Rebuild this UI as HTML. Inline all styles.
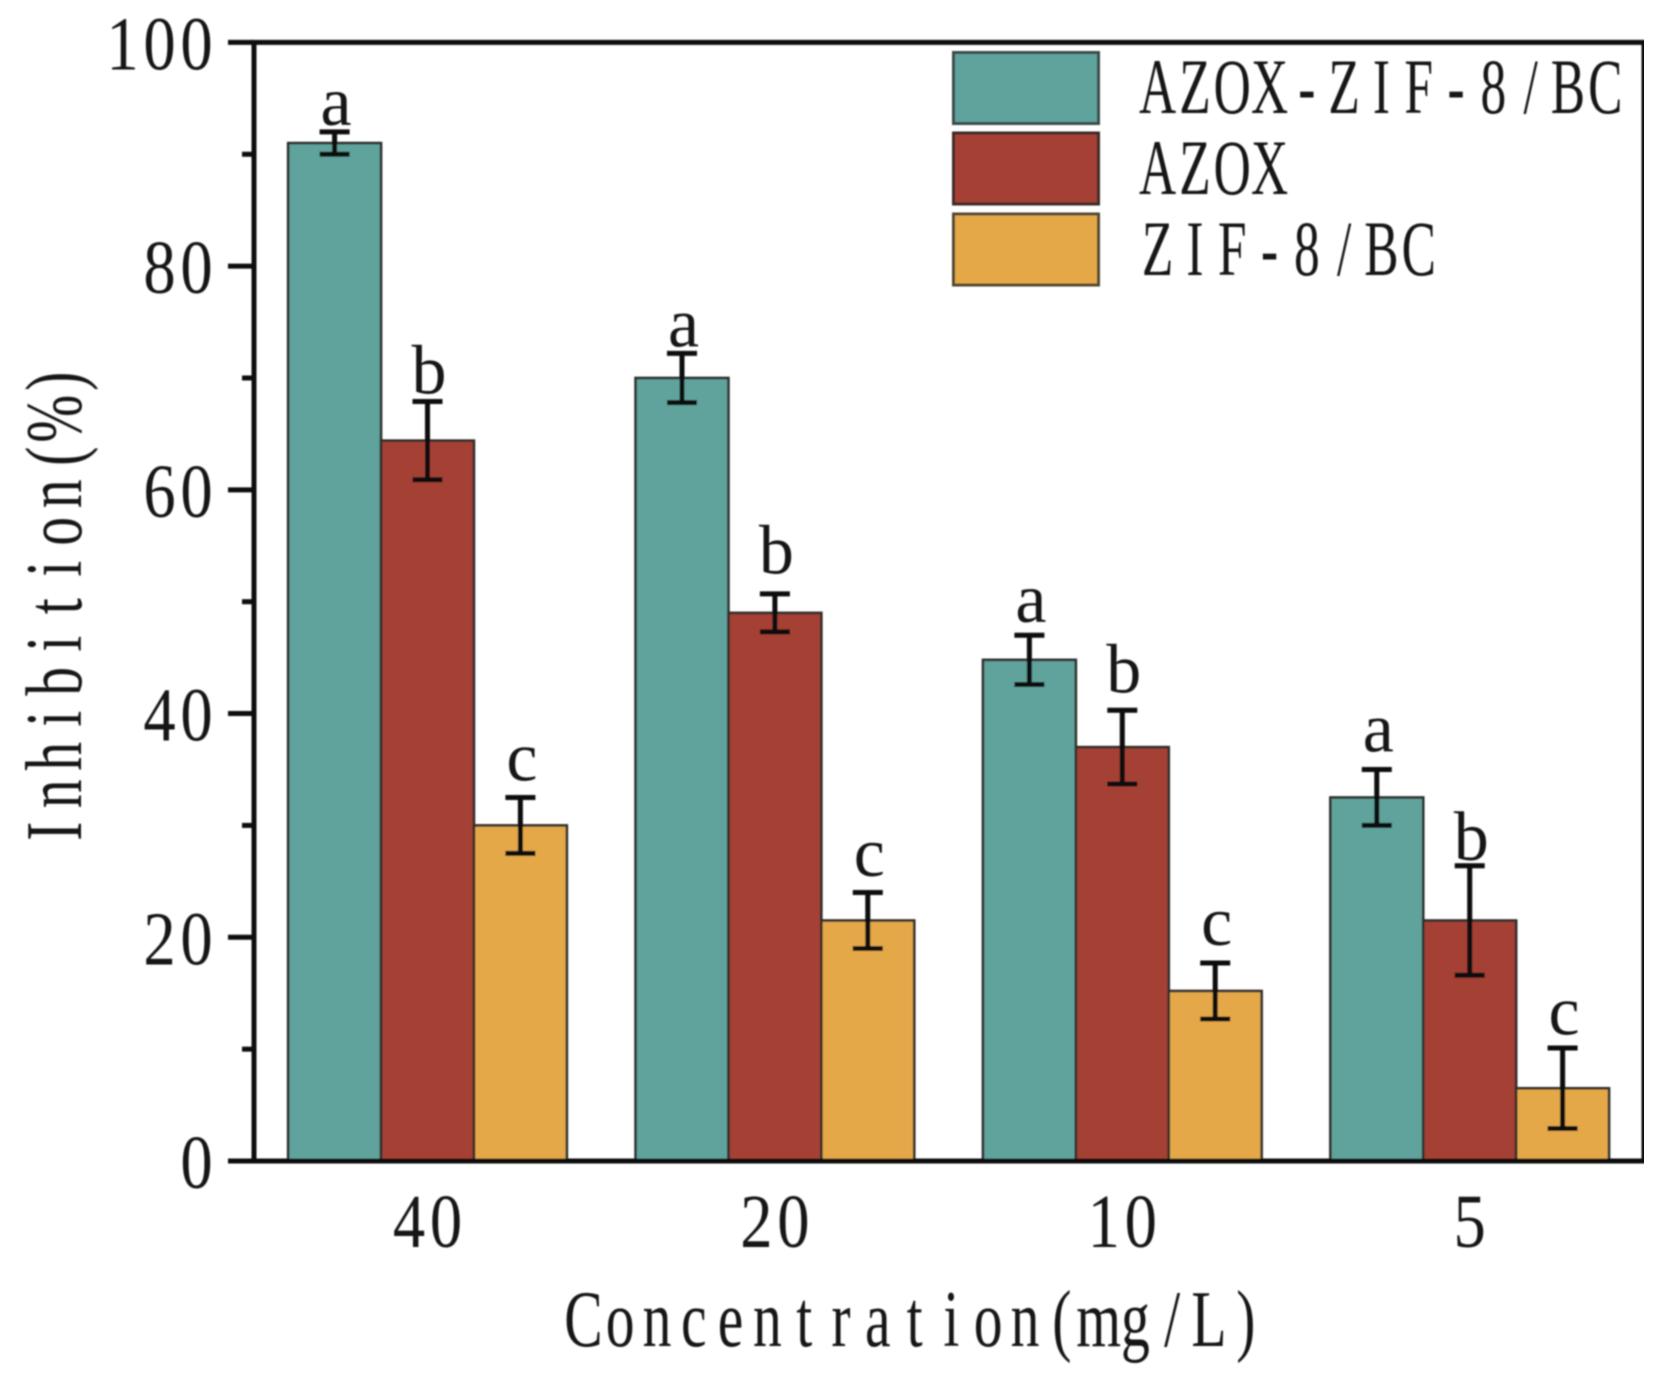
<!DOCTYPE html>
<html lang="en">
<head>
<meta charset="utf-8">
<title>Inhibition chart</title>
<style>
html,body{margin:0;padding:0;background:#fff;width:1661px;height:1373px;overflow:hidden}
svg{display:block}
text{font-family:"Liberation Serif","Noto Serif CJK SC",serif;fill:#141414}
</style>
</head>
<body>
<svg id="chart" width="1661" height="1373" viewBox="0 0 1661 1373" xmlns="http://www.w3.org/2000/svg">
  <defs><filter id="soft" x="0" y="0" width="100%" height="100%"><feGaussianBlur stdDeviation="0.9"/></filter></defs>
  <g id="root" filter="url(#soft)">
    <g id="bars"></g>
    <g id="errors"></g>
    <g id="letters"></g>
    <g id="axes"></g>
    <g id="ticklabels"></g>
    <g>
      <rect x="953.5" y="52.5" width="145" height="71" fill="#5ea39c" stroke="#3a4a47" stroke-width="3"/>
      <rect x="953.5" y="133" width="145" height="71" fill="#a53f36" stroke="#3a2a28" stroke-width="3"/>
      <rect x="953.5" y="214" width="145" height="71" fill="#e4a84a" stroke="#4f4630" stroke-width="3"/>
      <text class="mono" data-x="1139" data-y="113" data-size="78" data-cell="37.3" data-squash="0.66">AZOX-ZIF-8/BC</text>
      <text class="mono" data-x="1139" data-y="194" data-size="78" data-cell="37.3" data-squash="0.66">AZOX</text>
      <text class="mono" data-x="1139" data-y="275" data-size="78" data-cell="37.3" data-squash="0.66">ZIF-8/BC</text>
    </g>
    <text class="mono" data-x="565" data-y="1346" data-size="80" data-cell="36.8" data-squash="0.72">Concentration(mg/L)</text>
    <text class="mono" data-x="81" data-y="850" data-size="80" data-cell="37.5" data-squash="0.72" data-rotate="-90">Inhibition(%)</text>
  </g>
</svg>
<script>
const categories = ["40", "20", "10", "5"];
const seriesNames = ["AZOX-ZIF-8/BC", "AZOX", "ZIF-8/BC"];
const compositeValues = [91, 70, 44.8, 32.5];
const azoxValues = [64.4, 49, 37, 21.5];
const zifValues = [30, 21.5, 15.2, 6.5];
const compositeErrors = [1, 2.2, 2.2, 2.5];
const azoxErrors = [3.5, 1.7, 3.3, 4.9];
const zifErrors = [2.5, 2.5, 2.5, 3.6];
const compositeLetters = ["a", "a", "a", "a"];
const azoxLetters = ["b", "b", "b", "b"];
const zifLetters = ["c", "c", "c", "c"];
const compositeLetterLevels = [92.6, 72.8, 48.2, 36.6];
const azoxLetterLevels = [68.6, 52.5, 41.9, 26.9];
const zifLetterLevels = [34, 25.5, 19.3, 11.3];
const majorTicks = [0, 20, 40, 60, 80, 100];
const minorTicks = [10, 30, 50, 70, 90];

const NS = "http://www.w3.org/2000/svg";
const plot = {left: 254, right: 1644, top: 42.4, bottom: 1161};
const yMax = 100;
const firstCenter = 427.5, groupStep = 347.4, barWidth = 92.9;
const tickCell = 37, tickSquash = 0.85, tickSize = 76;
const fills = ["#5ea39c", "#a53f36", "#e4a84a"];
const values = [compositeValues, azoxValues, zifValues];
const errors = [compositeErrors, azoxErrors, zifErrors];
const letters = [compositeLetters, azoxLetters, zifLetters];
const letterLevels = [compositeLetterLevels, azoxLetterLevels, zifLetterLevels];

function yScale(v) { return plot.bottom - (v / yMax) * (plot.bottom - plot.top); }
function xCenter(c) { return firstCenter + c * groupStep; }
function xBar(c, s) { return xCenter(c) + (s - 1) * barWidth; }

function make(tag, attrs, parent) {
  const el = document.createElementNS(NS, tag);
  for (const k in attrs) el.setAttribute(k, attrs[k]);
  parent.appendChild(el);
  return el;
}

function tickText(str, startX, baseY, parent) {
  const el = make("text", {class: "mono", "data-x": startX, "data-y": baseY, "data-size": tickSize, "data-cell": tickCell, "data-squash": tickSquash}, parent);
  el.textContent = str;
  return el;
}

const barsG = document.getElementById("bars");
const errG = document.getElementById("errors");
const letG = document.getElementById("letters");
const axesG = document.getElementById("axes");
const tickG = document.getElementById("ticklabels");

categories.forEach(function (cat, c) {
  values.forEach(function (series, s) {
    const v = series[c], e = errors[s][c], cx = xBar(c, s);
    const bar = make("rect", {x: cx - barWidth / 2, y: yScale(v), width: barWidth, height: plot.bottom - yScale(v), fill: fills[s], stroke: "#2e2e2a", "stroke-width": 2.6}, barsG);
    
    
    const stem = make("line", {x1: cx, x2: cx, y1: yScale(v + e), y2: yScale(v - e), stroke: "#0c0c0c", "stroke-width": 5}, errG);
    
    
    const capTop = make("line", {x1: cx - 15, x2: cx + 15, y1: yScale(v + e), y2: yScale(v + e), stroke: "#0c0c0c", "stroke-width": 5}, errG);
    
    
    const capBot = make("line", {x1: cx - 15, x2: cx + 15, y1: yScale(v - e), y2: yScale(v - e), stroke: "#0c0c0c", "stroke-width": 5}, errG);
    
    
    const lab = make("text", {x: cx + 1.5, y: yScale(letterLevels[s][c]), "text-anchor": "middle", "font-size": 70}, letG);
    lab.textContent = letters[s][c];
    
    
  });
  const tl = tickText(cat, xCenter(c) - cat.length * tickCell / 2, 1247, tickG);
  
  
});

const frame = make("rect", {x: plot.left, y: plot.top, width: plot.right - plot.left, height: plot.bottom - plot.top, fill: "none", stroke: "#0a0a0a", "stroke-width": 5}, axesG);



majorTicks.forEach(function (t) {
  const tick = make("line", {x1: plot.left - 26, x2: plot.left, y1: yScale(t), y2: yScale(t), stroke: "#0a0a0a", "stroke-width": 5}, axesG);
  
  
  const str = String(t);
  const lab = tickText(str, 215 - str.length * tickCell, yScale(t) + 27, tickG);
  
  
});
minorTicks.forEach(function (t) {
  const tick = make("line", {x1: plot.left - 12, x2: plot.left, y1: yScale(t), y2: yScale(t), stroke: "#0a0a0a", "stroke-width": 5}, axesG);
  
  
});

document.querySelectorAll("text.mono").forEach(function (el) {
  const d = el.dataset, cell = +d.cell, sq = +d.squash, n = el.textContent.length, xs = [];
  for (let i = 0; i < n; i++) xs.push(((i + 0.5) * cell / sq).toFixed(2));
  el.setAttribute("x", xs.join(" "));
  el.setAttribute("y", 0);
  el.setAttribute("text-anchor", "middle");
  el.setAttribute("font-size", d.size);
  el.setAttribute("transform", "translate(" + d.x + " " + d.y + ") rotate(" + (d.rotate || 0) + ") scale(" + sq + " 1)");
});
</script>
</body>
</html>
